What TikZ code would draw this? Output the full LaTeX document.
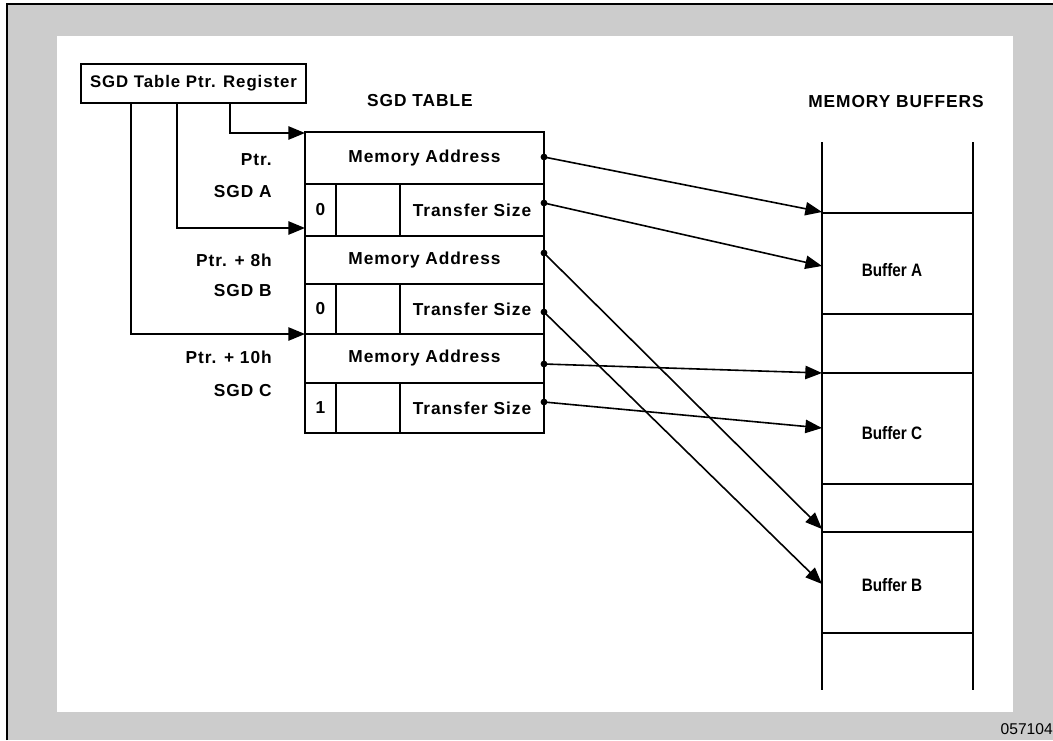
\documentclass[tikz,border=0pt]{standalone}
\usepackage{fontspec}
\setmainfont{Liberation Sans}
\newfontfamily\spacedfont[LetterSpace=5.5]{Liberation Sans}
\newfontfamily\buffont[FakeStretch=0.85]{Liberation Sans}
\usetikzlibrary{arrows.meta}
\tikzset{
  lbl/.style={font=\spacedfont\bfseries\fontsize{13}{15}\selectfont, inner sep=0pt},
  buf/.style={font=\buffont\bfseries\fontsize{13.5}{15}\selectfont, inner sep=0pt},
  cell/.style={draw, line width=1.2pt, inner sep=0pt, lbl},
  arr/.style={line width=1.2pt, -{Triangle[length=12.5pt,width=10pt]}},
  dot/.style={fill=black},
  bufline/.style={line width=1.2pt}
}
\begin{document}
\begin{tikzpicture}[x=0.75pt,y=-0.75pt]
\useasboundingbox (0,0) rectangle (1053,740);
% frame
\fill[black!20] (7,4) rectangle (1053,740);
\draw[line width=1.5pt] (7,740) -- (7,4) -- (1053,4);
\fill[white] (57,36) rectangle (1013,712);
\node[font=\fontsize{11.7}{13}\selectfont, anchor=east, inner sep=0pt] (fig) at (1053,729) {057104};

% register
\node[draw, line width=1.2pt, lbl, font=\spacedfont\bfseries\fontsize{12.6}{15}\selectfont, minimum width=168.75pt, minimum height=29.25pt] (reg) at (193.5,83.5) {SGD Table Ptr. Register};

% headers
\node[lbl] (hsgd) at (420,101) {SGD TABLE};
\node[lbl] (hmem) at (896,102) {MEMORY BUFFERS};

% table
\node[cell, minimum width=179.25pt, minimum height=39pt] (ma1) at (424.5,158) {Memory Address};
\node[cell, minimum width=23.25pt, minimum height=39pt] (f1) at (320.5,210) {0};
\node[cell, minimum width=48pt, minimum height=39pt] (e1) at (368,210) {};
\node[cell, minimum width=108pt, minimum height=39pt] (ts1) at (472,210) {Transfer Size};
\node[cell, minimum width=179.25pt, minimum height=36pt] (ma2) at (424.5,260) {Memory Address};
\node[cell, minimum width=23.25pt, minimum height=37.5pt] (f2) at (320.5,309) {0};
\node[cell, minimum width=48pt, minimum height=37.5pt] (e2) at (368,309) {};
\node[cell, minimum width=108pt, minimum height=37.5pt] (ts2) at (472,309) {Transfer Size};
\node[cell, minimum width=179.25pt, minimum height=36.75pt] (ma3) at (424.5,358.5) {Memory Address};
\node[cell, minimum width=23.25pt, minimum height=37.5pt] (f3) at (320.5,408) {1};
\node[cell, minimum width=48pt, minimum height=37.5pt] (e3) at (368,408) {};
\node[cell, minimum width=108pt, minimum height=37.5pt] (ts3) at (472,408) {Transfer Size};

% side labels
\node[lbl, anchor=east] (lp1) at (272,160) {Ptr.};
\node[lbl, anchor=east] (la) at (272,192) {SGD A};
\node[lbl, anchor=east] (lp2) at (272,260) {Ptr. + 8h};
\node[lbl, anchor=east] (lb) at (272,291) {SGD B};
\node[lbl, anchor=east] (lp3) at (272,357) {Ptr. + 10h};
\node[lbl, anchor=east] (lc) at (272,391) {SGD C};

% register pointers
\coordinate (r1) at (131,103);
\coordinate (r2) at (177,103);
\coordinate (r3) at (230,103);
\coordinate (t1) at (305,133);
\coordinate (t2) at (305,228);
\coordinate (t3) at (305,334);
\draw[arr] (r3) |- (t1);
\draw[arr] (r2) |- (t2);
\draw[arr] (r1) |- (t3);

% memory buffers
\draw[bufline] (822,142) -- (822,690);
\draw[bufline] (973,142) -- (973,690);
\foreach \yy in {213,314,373,484,532,633} \draw[bufline] (822,\yy) -- (973,\yy);
\node[buf] (bA) at (892,270) {Buffer A};
\node[buf] (bC) at (892,433) {Buffer C};
\node[buf] (bB) at (892,585) {Buffer B};

% connectors
\coordinate (s1) at (544,157);
\coordinate (s2) at (544,203);
\coordinate (s3) at (544,253);
\coordinate (s4) at (544,312);
\coordinate (s5) at (544,364);
\coordinate (s6) at (544,402);
\coordinate (d1) at (822,212);
\coordinate (d2) at (822,266);
\coordinate (d3) at (822,529);
\coordinate (d4) at (822,584);
\coordinate (d5) at (822,373);
\coordinate (d6) at (822,428);
\foreach \i in {1,...,6}{
  \draw[arr] (s\i) -- (d\i);
  \fill[dot] (s\i) circle[radius=3.4];
}
\end{tikzpicture}
\end{document}
